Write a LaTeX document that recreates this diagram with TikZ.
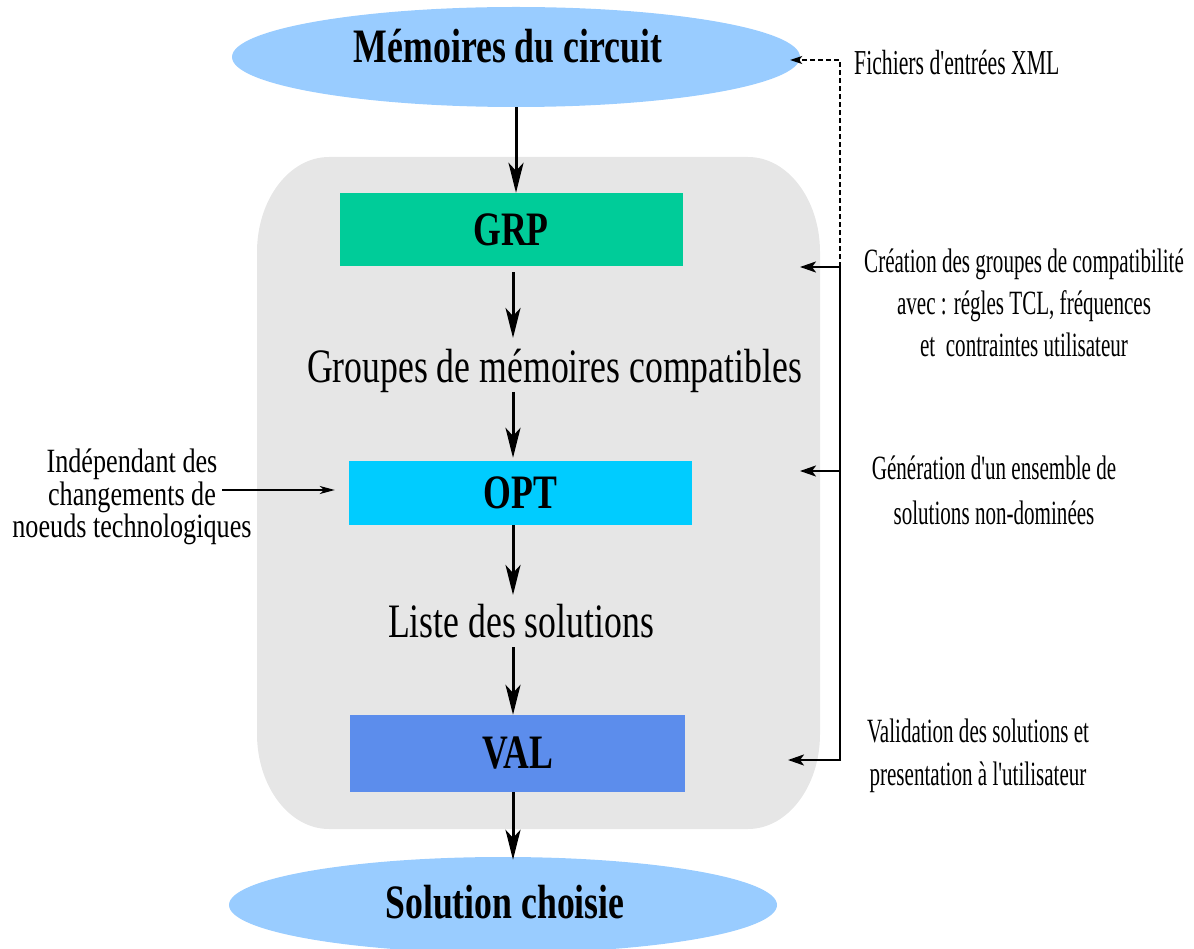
\documentclass[tikz,border=0pt]{standalone}
\usepackage{fontspec}
\setmainfont{Liberation Serif}[FakeStretch=0.744]
\newfontfamily\rightfont{Liberation Serif}[FakeStretch=0.62]
\newfontfamily\leftfont{Liberation Serif}[FakeStretch=0.77]
\usetikzlibrary{arrows.meta,shapes.geometric}
\definecolor{ellc}{RGB}{153,204,255}
\definecolor{grpc}{RGB}{0,204,153}
\definecolor{optc}{RGB}{0,204,255}
\definecolor{valc}{RGB}{92,141,236}
\definecolor{greyc}{RGB}{230,230,230}
\tikzset{
  ell/.style={ellipse, fill=ellc, draw=none, inner sep=0pt},
  stepbox/.style={rectangle, draw=none, inner sep=0pt, font=\fontsize{48}{56}\selectfont\bfseries},
  bigtxt/.style={inner sep=0pt, font=\fontsize{48}{56}\selectfont},
  bigtitle/.style={inner sep=0pt, font=\fontsize{48}{56}\selectfont\bfseries},
  rtxt/.style={inner sep=0pt, align=center},
  ltxt/.style={inner sep=0pt, align=center},
  bigarrow/.style={line width=3pt, -{Stealth[length=30pt,width=15pt,inset=8pt]}},
  smallarrow/.style={line width=2.2pt, -{Stealth[length=16pt,width=11pt,inset=4pt]}},
  brack/.style={line width=2.2pt},
  dashline/.style={line width=1.5pt, dash pattern=on 5pt off 3pt, -{Stealth[length=12pt,width=8pt,inset=3pt]}},
  thinarrow/.style={line width=1.5pt, -{Stealth[length=15pt,width=8pt,inset=4pt]}}
}
\begin{document}
\begin{tikzpicture}[x=1pt,y=-1pt]
\useasboundingbox (0,0) rectangle (1194,949);
% grey container
\fill[greyc] (329,157) -- (748,157) .. controls (788,157) and (820,200) .. (820,252)
  -- (820,734) .. controls (820,786) and (788,829) .. (748,829)
  -- (329,829) .. controls (289,829) and (257,786) .. (257,734)
  -- (257,252) .. controls (257,200) and (289,157) .. (329,157) -- cycle;

% ellipses
\node[ell, minimum width=568pt, minimum height=100pt] (mem) at (516,57) {};
\node[bigtitle, anchor=base] (memt) at (508,63) {Mémoires du circuit};
\node[ell, minimum width=548pt, minimum height=96pt] (sol) at (503,905) {};
\node[bigtitle, anchor=base] (solt) at (505,918) {Solution choisie};

% step boxes
\node[stepbox, fill=grpc, minimum width=343pt, minimum height=73pt] (grp) at (511,229.5) {GRP};
\node[stepbox, fill=optc, minimum width=343pt, minimum height=64pt] (opt) at (520.5,493) {OPT};
\node[stepbox, fill=valc, minimum width=335pt, minimum height=77pt] (val) at (517.5,753.5) {VAL};

% intermediate texts
\node[bigtxt, anchor=base] (grpm) at (554.5,383) {Groupes de mémoires compatibles};
\node[bigtxt, anchor=base] (liste) at (521,637) {Liste des solutions};

% main flow
\coordinate (ax) at (513,0);
\draw[bigarrow] (mem.south) -- (mem.south |- grp.north);
\draw[bigarrow] ([yshift=-6pt]ax |- grp.south) -- ([yshift=45pt]ax |- grpm.base);
\draw[bigarrow] ([yshift=-9pt]ax |- grpm.base) -- ([yshift=3pt]ax |- opt.north);
\draw[bigarrow] (ax |- opt.south) -- ([yshift=42pt]ax |- liste.base);
\draw[bigarrow] ([yshift=-10pt]ax |- liste.base) -- (ax |- val.north);
\draw[bigarrow] (ax |- val.south) -- ([yshift=-3pt]ax |- sol.north);

% right side annotations
\node[anchor=base west, inner sep=0pt, font=\rightfont\fontsize{35}{42}\selectfont] (xml) at (854,75) {Fichiers d'entrées XML};
\node[rtxt, font=\rightfont\fontsize{34}{42}\selectfont] (crea) at (1024,303) {Création des groupes de compatibilité\\avec : régles TCL, fréquences\\et \ contraintes utilisateur};
\node[rtxt, font=\rightfont\fontsize{34}{45}\selectfont] (gen) at (994,490.5) {Génération d'un ensemble de\\solutions non-dominées};
\node[rtxt, font=\rightfont\fontsize{34}{43}\selectfont] (vald) at (978,755.5) {Validation des solutions et\\presentation à l'utilisateur};

\coordinate (k0) at (840,267);
\coordinate (k1) at (840,471);
\coordinate (k2) at (840,760);
\coordinate (t0) at (800,267);
\coordinate (t1) at (800,471);
\coordinate (t2) at (788,760);
\draw[dashline] (k0) |- ([xshift=-10pt,yshift=-3pt]mem.east);
\draw[brack] (k0) -- (k2);
\draw[smallarrow] (k0) -- (t0);
\draw[smallarrow] (k1) -- (t1);
\draw[smallarrow] ([xshift=1.1pt]k2) -- (t2);

% left annotation
\node[ltxt, font=\leftfont\fontsize{34}{32.5}\selectfont] (indep) at (132,497) {Indépendant des\\changements de\\noeuds technologiques};
\coordinate (la) at (222,490);
\draw[thinarrow, shorten >=14pt] (la) -- (opt.west |- la) ;
\end{tikzpicture}
\end{document}
